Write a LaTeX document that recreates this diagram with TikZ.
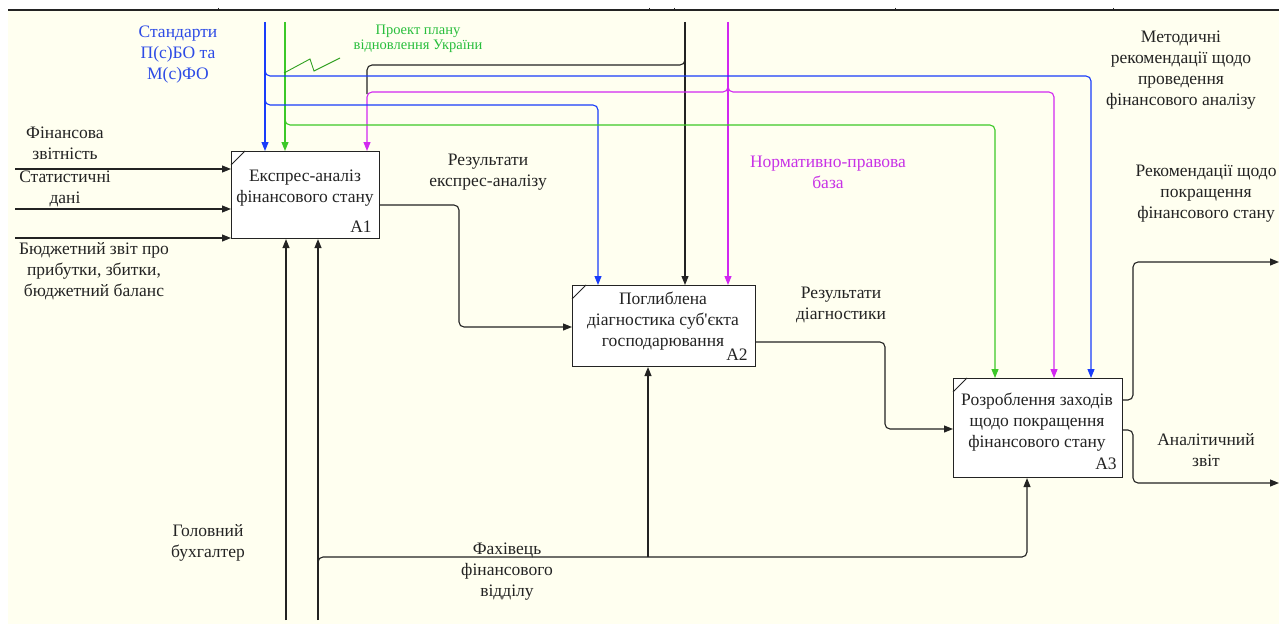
\documentclass[tikz,border=0pt]{standalone}
\usepackage{fontspec}
\setmainfont{Liberation Serif}[Ligatures=TeXOff]
\usetikzlibrary{arrows.meta,calc}
\definecolor{cream}{RGB}{255,255,240}
\definecolor{cblue}{RGB}{25,60,250}
\definecolor{cgreen}{RGB}{60,200,40}
\definecolor{cmag}{RGB}{210,40,240}
\definecolor{lblue}{RGB}{45,75,230}
\definecolor{lgreen}{RGB}{40,190,60}
\definecolor{lmag}{RGB}{200,50,230}
\definecolor{ink}{RGB}{35,35,35}
\begin{document}
\begin{tikzpicture}[x=1pt,y=-1pt,
  line/.style={line width=1.1pt, rounded corners=5pt},
  arr/.style={line/.try, -{Triangle[length=9pt,width=7pt]}},
  func/.style={draw=ink, fill=white, line width=1.1pt, inner sep=0pt, anchor=north west},
  txt/.style={font=\fontsize{17.5}{21}\selectfont, align=center, text=ink, inner sep=0pt},
  small/.style={font=\fontsize{14.5}{15.5}\selectfont, align=center, inner sep=0pt},
  num/.style={font=\fontsize{17.5}{19}\selectfont, text=ink, inner sep=0pt},
]
\useasboundingbox (0,0) rectangle (1279,626);
\fill[white] (0,0) rectangle (1279,626);
\fill[cream] (8,10) rectangle (1279,624);
\draw[ink, line width=1.2pt] (8,10) -- (1279,10);
\foreach \t in {218,649,674,895,1113} \draw[ink, line width=1pt] (\t,8) -- (\t,10);

% function boxes
\node[func, minimum width=148pt, minimum height=87pt] (a1) at (231,151) {};
\node[func, minimum width=183pt, minimum height=81pt] (a2) at (572,285) {};
\node[func, minimum width=169pt, minimum height=99pt] (a3) at (953,378) {};
\foreach \b/\w in {a1/14,a2/14,a3/14}
  \draw[ink, line width=0.9pt] ($(\b.north west)+(0,\w)$) -- ($(\b.north west)+(\w,0)$);

\node[txt] (a1t) at (305,188) {Експрес-аналіз\\фінансового стану};
\node[txt] (a2t) at (663,321) {Поглиблена\\діагностика суб'єкта\\господарювання};
\node[txt] (a3t) at (1037,422) {Розроблення заходів\\щодо покращення\\фінансового стану};
\node[num] (a1n) at (361,227) {A1};
\node[num] (a2n) at (737,355) {A2};
\node[num] (a3n) at (1106,464) {A3};

% free ends
\coordinate (i1) at (15,169);
\coordinate (i2) at (15,209);
\coordinate (i3) at (15,238);
\coordinate (cB) at (265,22);
\coordinate (cG) at (285,22);
\coordinate (cK) at (685,22);
\coordinate (cM) at (728,22);
\coordinate (mG) at (286,620);
\coordinate (mF) at (318,620);
\coordinate (o1) at (1279,262);
\coordinate (o2) at (1279,483);

% inputs
\draw[arr, ink] (i1) -- (i1 -| a1.west);
\draw[arr, ink] (i2) -- (i2 -| a1.west);
\draw[arr, ink] (i3) -- (i3 -| a1.west);

% controls
\draw[arr, cblue] (cB) -- (cB |- a1.north);
\draw[arr, cgreen] (cG) -- (cG |- a1.north);
\draw[arr, ink] (cK) -- (cK |- a2.north);
\draw[arr, cmag] (cM) -- (cM |- a2.north);
\draw[line, ink] (685,58) -- (685,65) -- (367,65) -- (367,94);
\draw[arr, cmag] (728,85) -- (728,92) -- (367,92) -- ($(a1.north west)+(136,0)$);
\draw[arr, cmag] (728,85) -- (728,92) -- (1054,92) -- ($(a3.north west)+(101,0)$);
\draw[arr, cblue] (265,69) -- (265,76) -- (1091,76) -- ($(a3.north west)+(138,0)$);
\draw[arr, cblue] (265,98) -- (265,105) -- (598,105) -- ($(a2.north west)+(26,0)$);
\draw[arr, cgreen] (285,118) -- (285,125) -- (995,125) -- ($(a3.north west)+(42,0)$);
\draw[cgreen!80!black, line width=0.9pt] (284,73) -- (310,59) -- (314,71) -- (340,58);

% flows between boxes
\draw[arr, ink] ($(a1.north east)+(0,54)$) -- (459,205) -- (459,327) -- ($(a2.north west)+(0,42)$);
\draw[arr, ink] ($(a2.north east)+(0,57)$) -- (885,342) -- (885,429) -- ($(a3.north west)+(0,51)$);
\draw[arr, ink] ($(a3.north east)+(0,22)$) -- (1133,400) -- (1133,262) -- (o1);
\draw[arr, ink] ($(a3.north east)+(0,52)$) -- (1133,430) -- (1133,483) -- (o2);

% mechanisms
\draw[arr, ink] (mG) -- (mG |- a1.south);
\draw[arr, ink] (mF) -- (mF |- a1.south);
\draw[arr, ink] (318,564) -- (318,557) -- (1027,557) -- ($(a3.south west)+(74,0)$);
\draw[arr, ink] (648,557) -- ($(a2.south west)+(76,0)$);

% labels
\node[txt] (l1) at (65,143) {Фінансова\\звітність};
\node[txt] (l2) at (65,189) {Статистичні\\дані};
\node[txt] (l3) at (94,271) {Бюджетний звіт про\\прибутки, збитки,\\бюджетний баланс};
\node[txt, text=lblue] (l4) at (178,55) {Стандарти\\П(с)БО та\\М(с)ФО};
\node[small, text=lgreen] (l5) at (418,39) {Проект плану\\відновлення України};
\node[txt] (l6) at (488,172) {Результати\\експрес-аналізу};
\node[txt] (l7) at (1181,70) {Методичні\\рекомендації щодо\\проведення\\фінансового аналізу};
\node[txt, text=lmag] (l8) at (828,172) {Нормативно-правова\\база};
\node[txt] (l9) at (1206,194) {Рекомендації щодо\\покращення\\фінансового стану};
\node[txt] (l10) at (841,305) {Результати\\діагностики};
\node[txt] (l11) at (1206,450) {Аналітичний\\звіт};
\node[txt] (l12) at (208,543) {Головний\\бухгалтер};
\node[txt] (l13) at (507,572) {Фахівець\\фінансового\\відділу};
\end{tikzpicture}
\end{document}
